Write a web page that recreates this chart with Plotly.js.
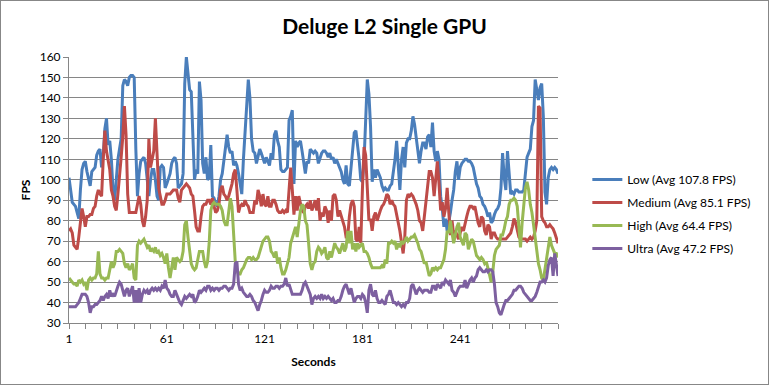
<!DOCTYPE html>
<html>
<head>
<meta charset="utf-8">
<script src="https://cdn.plot.ly/plotly-3.0.1.min.js"></script>
<style>
  html, body { margin: 0; padding: 0; background: #ffffff; }
  #wrap { width: 767px; height: 383px; border: 1px solid #878787; }
  #chart { width: 767px; height: 383px; }
</style>
</head>
<body>
<div id="wrap"><div id="chart"></div></div>
<script>
// ---- Data ----
const chartTitle = "Deluge L2 Single GPU";
const xTitle = "Seconds";
const yTitle = "FPS";
const xTickLabels = [1, 61, 121, 181, 241];
const seriesNames = ["Low (Avg 107.8 FPS)", "Medium (Avg 85.1 FPS)", "High (Avg 64.4 FPS)", "Ultra (Avg 47.2 FPS)"];
const seriesColors = ["#4A7EBB", "#BE4B48", "#98B954", "#7D60A0"];

const low = [
101,95,89,88,87,84,81,95,105,108,
109,104,101,97,104,105,106,112,114,115,
106,112,125,130,117,119,110,95,90,100,
110,115,120,146,149,148,146,150,151,151,
150,115,92,103,109,110,111,108,101,92,
100,105,105,100,92,90,106,107,106,96,
98,101,103,108,110,111,108,96,97,98,
103,147,160,153,144,143,116,100,105,103,
148,139,108,103,111,100,101,117,92,91,
88,87,92,100,103,110,117,122,116,113,
114,107,109,107,103,98,93,110,124,135,
149,140,120,114,113,108,111,115,113,110,
108,111,109,107,113,110,122,124,119,116,
105,104,104,105,106,129,131,134,98,119,
116,118,119,114,108,103,109,108,115,114,
113,114,113,108,111,113,114,114,113,111,
113,110,111,108,110,108,106,104,100,98,
107,98,97,105,116,123,124,118,110,100,
99,109,131,149,142,126,99,105,101,105,
103,101,97,95,96,95,95,97,98,103,
110,119,108,95,110,116,106,118,120,120,
124,131,127,121,114,108,114,118,118,115,
121,122,116,128,114,109,114,110,92,86,
77,81,75,79,84,90,95,104,109,100,
106,108,109,110,110,109,109,108,106,102,
98,96,92,91,88,87,85,82,84,79,
80,83,85,86,88,96,113,101,95,114,
101,93,94,93,95,95,94,94,94,95,
103,111,113,115,126,129,149,143,139,145,
147,131,94,88,101,105,106,105,106,105,103
];

const medium = [
75,76,74,68,67,66,72,79,86,82,
77,82,82,83,83,86,87,92,95,93,
92,110,124,114,109,105,95,92,87,85,
93,101,111,121,136,122,93,84,84,84,
84,84,88,92,88,80,77,82,90,120,
106,110,114,130,109,96,92,88,88,90,
93,93,93,94,95,95,95,91,89,95,
96,97,98,97,96,93,92,85,77,75,
75,82,87,88,88,90,90,88,91,87,
84,85,88,95,97,93,92,90,92,95,
98,103,105,95,84,87,88,87,90,88,
87,84,84,84,90,88,95,92,87,93,
88,87,92,87,87,90,90,88,85,84,
84,85,84,85,84,98,106,95,83,92,
85,92,88,85,84,87,88,86,90,85,
87,90,85,91,80,84,82,87,85,79,
85,80,92,93,90,82,85,82,80,77,
72,72,82,88,90,87,71,70,77,69,
95,116,112,92,80,81,75,82,84,80,
83,85,87,88,90,93,92,88,90,88,
87,82,79,75,69,64,72,90,93,92,
93,92,90,88,85,80,79,75,82,90,
95,104,104,101,92,99,109,98,85,89,
82,86,96,84,73,80,73,75,73,71,
74,77,75,79,82,85,87,87,86,87,
83,79,77,82,81,75,73,78,77,71,
74,74,72,71,71,71,71,71,71,72,
73,74,77,81,79,75,72,71,71,71,
71,70,71,72,71,72,75,80,136,135,
82,80,79,77,77,78,77,76,74,71,69
];

const high = [
52,51,50,49,49,48,51,50,51,49,
50,46,51,52,51,52,52,54,65,54,
52,52,51,52,52,57,60,57,59,65,
65,66,65,64,59,57,59,56,57,59,
52,51,68,70,69,70,71,69,67,68,
65,66,65,67,64,65,63,64,62,59,
64,57,52,57,62,56,62,61,60,61,
65,78,80,72,65,59,57,56,57,62,
65,65,65,60,57,60,69,85,88,89,
88,88,88,87,85,80,78,78,85,91,
87,72,60,56,54,54,56,57,59,61,
62,62,61,62,61,61,62,65,67,70,
71,72,72,70,65,64,62,65,59,62,
57,54,54,56,59,62,69,72,75,77,
72,79,85,88,87,80,78,69,59,56,
59,60,65,67,66,64,65,67,62,61,
65,62,65,69,67,66,64,67,69,65,
67,75,69,75,66,69,65,69,67,68,
69,65,65,64,62,59,57,57,57,57,
57,57,58,57,61,59,69,69,70,69,
70,66,69,67,70,69,70,72,70,71,
72,72,73,71,69,66,65,62,59,60,
57,53,54,57,56,57,56,57,57,59,
61,66,75,74,80,74,69,73,77,79,
72,70,68,74,73,66,69,71,70,67,
63,62,61,62,61,59,60,57,53,50,
55,63,66,67,68,73,73,76,80,82,
88,90,90,91,90,87,77,67,79,88,
96,99,95,88,84,78,71,65,59,56,
52,51,56,62,66,72,68,66,64,64,62
];

const ultra = [
38,38,38,38,38,39,40,42,44,44,
44,43,40,35,38,38,39,39,40,41,
43,41,43,44,42,46,43,44,43,46,
48,50,49,46,43,46,47,43,46,48,
40,46,40,47,40,44,46,45,46,44,
46,47,46,47,46,47,46,48,47,51,
47,46,44,43,43,46,44,42,40,39,
41,43,42,43,44,43,44,40,41,43,
46,45,46,47,46,48,48,46,47,46,
47,47,46,47,47,48,48,47,46,47,
47,49,59,60,49,46,47,45,44,43,
43,44,43,41,40,38,36,39,41,44,
46,45,45,46,48,47,47,48,48,47,
48,48,49,52,48,49,46,44,44,44,
44,44,44,46,49,50,48,46,44,39,
42,43,42,43,42,44,42,43,42,43,
42,41,42,40,40,41,41,43,46,48,
49,47,44,47,43,40,42,43,43,42,
44,43,40,35,46,49,44,43,46,42,
40,40,41,40,39,43,44,46,43,40,
40,39,40,39,38,39,38,40,40,42,
48,49,46,44,46,47,46,45,46,46,
46,45,45,48,48,46,49,48,47,50,
49,51,50,49,51,46,45,43,45,47,
48,48,48,51,47,49,51,52,50,52,
53,56,57,56,55,55,56,55,56,56,
55,49,40,38,35,34,37,39,41,41,
42,43,44,46,46,47,48,48,47,45,
44,43,42,41,41,42,43,45,48,50,
50,51,50,52,58,61,62,53,64,58,53
];

// ---- Build chart ----
const seconds = low.map((_, i) => i + 1);
const allSeries = [low, medium, high, ultra];

const traces = allSeries.map((vals, k) => ({
  type: "scatter",
  mode: "lines",
  x: seconds,
  y: vals,
  name: seriesNames[k],
  legendgroup: "g" + k,
  line: { color: seriesColors[k], width: 3 },
  hoverinfo: "skip"
}));

const tickVals = [];
const tickText = [];
for (let v = 1; v <= seconds.length; v += 10) {
  tickVals.push(v);
  tickText.push(xTickLabels.includes(v) ? String(v) : "");
}

const axisColor = "#868686";
const font = "Lato, 'Open Sans', 'DejaVu Sans', sans-serif";

const layout = {
  width: 767,
  height: 383,
  margin: { l: 68, r: 198, t: 56, b: 61 },
  paper_bgcolor: "#ffffff",
  plot_bgcolor: "#ffffff",
  font: { family: font, size: 12, color: "#000000" },
  title: {
    text: "<b>" + chartTitle + "</b>",
    font: { family: font, size: 21, color: "#000000" },
    x: 0.5, xref: "container", xanchor: "center",
    y: 0.932, yref: "container", yanchor: "middle"
  },
  xaxis: {
    range: [1, seconds.length],
    tickmode: "array",
    tickvals: tickVals,
    ticktext: tickText,
    ticks: "outside",
    ticklen: 5,
    tickcolor: axisColor,
    tickfont: { family: font, size: 12 },
    showline: true,
    linecolor: axisColor,
    linewidth: 1,
    showgrid: false,
    zeroline: false,
    title: { text: "<b>" + xTitle + "</b>", font: { family: font, size: 12 }, standoff: 12 }
  },
  yaxis: {
    range: [30, 160],
    tick0: 30,
    dtick: 10,
    ticks: "outside",
    ticklen: 5,
    tickcolor: axisColor,
    tickfont: { family: font, size: 12 },
    showline: true,
    linecolor: axisColor,
    linewidth: 1,
    showgrid: true,
    gridcolor: axisColor,
    gridwidth: 1,
    zeroline: false,
    title: { text: "<b>" + yTitle + "</b>", font: { family: font, size: 12 }, standoff: 6 }
  },
  legend: {
    x: 1.06, xanchor: "left",
    y: 0.41, yanchor: "middle",
    font: { family: font, size: 12 },
    bgcolor: "rgba(0,0,0,0)",
    itemwidth: 30,
    tracegroupgap: 4,
    traceorder: "grouped"
  },
  showlegend: true
};

Plotly.newPlot("chart", traces, layout, { displayModeBar: false, staticPlot: true });
</script>
</body>
</html>
